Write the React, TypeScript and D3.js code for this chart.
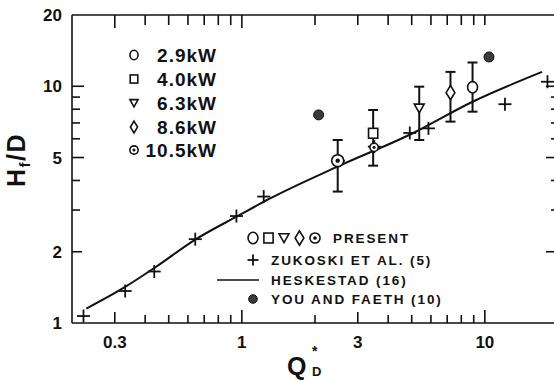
import React from "react";
import * as d3 from "d3";

// ---------- data ----------
const zukoskiQ = [0.223, 0.331, 0.436, 0.643, 0.95, 1.23, 2.5, 3.51, 4.91, 5.86, 12.1, 18.1];
const zukoskiH = [1.07, 1.365, 1.65, 2.26, 2.83, 3.42, 4.85, 5.56, 6.35, 6.64, 8.4, 10.45];

const presentLabels = ["2.9kW", "4.0kW", "6.3kW", "8.6kW", "10.5kW"];
const presentShapes = ["circle", "square", "triangle", "diamond", "dotcircle"];
const presentQ = [8.9, 3.47, 5.37, 7.22, 2.48];
const presentH = [9.9, 6.33, 8.07, 9.4, 4.85];
const presentLow = [7.81, 4.62, 5.93, 7.09, 3.59];
const presentHigh = [12.6, 7.94, 9.96, 11.5, 5.93];

const extraQ = [3.5];
const extraH = [5.52];

const youFaethQ = [2.07, 10.4];
const youFaethH = [7.57, 13.3];

const heskQ = [0.229, 0.331, 0.441, 0.643, 0.98, 1.3, 2.5, 5.0, 8.9, 17.2];
const heskH = [1.15, 1.42, 1.72, 2.25, 2.86, 3.35, 4.6, 6.3, 8.6, 11.5];

const xTickLabels = [0.3, 1, 3, 10];
const xTicks = [0.3, 0.4, 0.5, 0.6, 0.7, 0.8, 0.9, 1, 2, 3, 4, 5, 6, 7, 8, 9, 10];
const yTickLabels = [1, 2, 5, 10, 20];
const yTicks = [2, 3, 4, 5, 6, 7, 8, 9, 10];

const legendBottom = ["PRESENT", "ZUKOSKI ET AL. (5)", "HESKESTAD (16)", "YOU AND FAETH (10)"];

// ---------- layout ----------
const W = 554;
const H = 381;
const x = d3.scaleLog().domain([0.2, 20]).range([72, 558]);
const y = d3.scaleLog().domain([1, 20]).range([323, 15]);
const FONT = "'Liberation Sans', Arial, Helvetica, sans-serif";
const INK = "#111";

function Marker({ shape, cx, cy, s = 1 }: { shape: string; cx: number; cy: number; s?: number }) {
  const sw = 1.6;
  if (shape === "circle")
    return <ellipse cx={cx} cy={cy} rx={4.5 * s} ry={5.2 * s} fill="white" stroke={INK} strokeWidth={sw} />;
  if (shape === "square")
    return <rect x={cx - 4.2 * s} y={cy - 4.5 * s} width={8.4 * s} height={9 * s} fill="white" stroke={INK} strokeWidth={sw} />;
  if (shape === "triangle")
    return (
      <path
        d={`M${cx - 4.5 * s},${cy - 3.8 * s} L${cx + 4.5 * s},${cy - 3.8 * s} L${cx},${cy + 4.2 * s} Z`}
        fill="white"
        stroke={INK}
        strokeWidth={sw}
      />
    );
  if (shape === "diamond")
    return (
      <path
        d={`M${cx},${cy - 6.5 * s} L${cx + 4 * s},${cy} L${cx},${cy + 6.5 * s} L${cx - 4 * s},${cy} Z`}
        fill="white"
        stroke={INK}
        strokeWidth={sw}
      />
    );
  // dotcircle
  return (
    <g>
      <circle cx={cx} cy={cy} r={4.6 * s} fill="white" stroke={INK} strokeWidth={sw} />
      <circle cx={cx} cy={cy} r={1.7 * s} fill={INK} />
    </g>
  );
}

function Plus({ cx, cy, r = 6.5 }: { cx: number; cy: number; r?: number }) {
  return (
    <g stroke={INK} strokeWidth={1.8}>
      <line x1={cx - r} x2={cx + r} y1={cy} y2={cy} />
      <line x1={cx} x2={cx} y1={cy - r} y2={cy + r} />
    </g>
  );
}

export default function App() {
  const line = d3
    .line<number>()
    .x((_, i) => x(heskQ[i]))
    .y((d) => y(d))
    .curve(d3.curveMonotoneX);

  const x0 = x.range()[0];
  const x1 = x.range()[1];
  const yb = y.range()[0];
  const yt = y.range()[1];

  const bottomLen = (t: number) => (t === 1 || t === 10 ? 13 : t === 0.3 || t === 3 ? 11 : 8);
  const topLen = (t: number) => (t === 1 || t === 0.3 ? 13 : 10);
  const leftLen = (t: number) => (t === 10 || t === 5 ? 12 : t === 2 ? 10 : 8);
  const rightLen = (t: number) => (t === 10 || t === 5 || t === 2 ? 12 : 7);

  const legendTopY = [55, 79, 103, 127, 150];
  const legendBotY = [238, 260, 280, 299];

  return (
    <svg
      width={W}
      height={H}
      viewBox={`0 0 ${W} ${H}`}
      style={{ position: "absolute", left: 0, top: 0, background: "white" }}
    >
      <rect x={0} y={0} width={W} height={H} fill="white" />

      {/* frame */}
      <g stroke={INK} strokeWidth={1.6} fill="none">
        <line x1={x0} x2={x1} y1={yb} y2={yb} />
        <line x1={x0} x2={x1} y1={yt} y2={yt} />
        <line x1={x0} x2={x0} y1={yt} y2={yb} />
        <line x1={x1} x2={x1} y1={yt} y2={yb} />
      </g>

      {/* ticks */}
      <g stroke={INK} strokeWidth={1.6}>
        {xTicks.map((t) => (
          <line key={"b" + t} x1={x(t)} x2={x(t)} y1={yb} y2={yb - bottomLen(t)} />
        ))}
        {xTicks.map((t) => (
          <line key={"t" + t} x1={x(t)} x2={x(t)} y1={yt} y2={yt + topLen(t)} />
        ))}
        {yTicks.map((t) => (
          <line key={"l" + t} x1={x0} x2={x0 + leftLen(t)} y1={y(t)} y2={y(t)} />
        ))}
        {yTicks.map((t) => (
          <line key={"r" + t} x1={x1} x2={x1 - rightLen(t)} y1={y(t)} y2={y(t)} />
        ))}
      </g>

      {/* tick labels */}
      <g fontFamily={FONT} fontWeight="bold" fontSize={17} fill={INK}>
        {xTickLabels.map((t) => (
          <text key={"xl" + t} x={x(t)} y={348} textAnchor="middle">
            {String(t)}
          </text>
        ))}
        {yTickLabels.map((t) => (
          <text key={"yl" + t} x={62} y={y(t) + 6} textAnchor="end">
            {String(t)}
          </text>
        ))}
      </g>

      {/* axis titles */}
      <text
        transform="translate(25,160) rotate(-90)"
        textAnchor="middle"
        fontFamily={FONT}
        fontWeight="bold"
        fontSize={25}
        letterSpacing={1.5}
        fill={INK}
      >
        H<tspan fontSize={15} dy={5}>f</tspan>
        <tspan dy={-5}>/D</tspan>
      </text>
      <g fontFamily={FONT} fontWeight="bold" fill={INK}>
        <text x={287} y={375} fontSize={25}>Q</text>
        <text x={312} y={356} fontSize={14}>*</text>
        <text x={312} y={376} fontSize={13}>D</text>
      </g>

      {/* Heskestad line */}
      <path d={line(heskH) ?? ""} fill="none" stroke={INK} strokeWidth={2} />

      {/* error bars */}
      <g stroke={INK} strokeWidth={2}>
        {presentQ.map((q, i) => (
          <g key={"eb" + i}>
            <line x1={x(q)} x2={x(q)} y1={y(presentLow[i])} y2={y(presentHigh[i])} />
            <line x1={x(q) - 5} x2={x(q) + 5} y1={y(presentLow[i])} y2={y(presentLow[i])} />
            <line x1={x(q) - 5} x2={x(q) + 5} y1={y(presentHigh[i])} y2={y(presentHigh[i])} />
          </g>
        ))}
      </g>

      {/* Zukoski */}
      {zukoskiQ.map((q, i) => (
        <Plus key={"z" + i} cx={x(q)} cy={y(zukoskiH[i])} />
      ))}

      {/* present */}
      {presentQ.map((q, i) => (
        <Marker key={"p" + i} shape={presentShapes[i]} cx={x(q)} cy={y(presentH[i])} s={i === 4 ? 1.3 : 1.1} />
      ))}
      {extraQ.map((q, i) => (
        <Marker key={"e" + i} shape="dotcircle" cx={x(q)} cy={y(extraH[i])} s={0.9} />
      ))}

      {/* You and Faeth */}
      {youFaethQ.map((q, i) => (
        <circle key={"yf" + i} cx={x(q)} cy={y(youFaethH[i])} r={5} fill="#3a3a3a" stroke={INK} strokeWidth={1} />
      ))}

      {/* top-left legend */}
      {presentLabels.map((lab, i) => (
        <g key={"lt" + i}>
          <Marker shape={presentShapes[i]} cx={134} cy={legendTopY[i]} s={0.9} />
          <text
            x={217}
            y={legendTopY[i] + 7}
            textAnchor="end"
            fontFamily={FONT}
            fontWeight="bold"
            fontSize={19}
            letterSpacing={1}
            fill={INK}
          >
            {lab}
          </text>
        </g>
      ))}

      {/* bottom legend */}
      <g>
        {presentShapes.map((sh, i) => (
          <Marker key={"lb" + i} shape={sh} cx={253 + i * 15.5} cy={legendBotY[0]} s={1.1} />
        ))}
        <Plus cx={253} cy={legendBotY[1]} r={5.5} />
        <line x1={217} x2={259} y1={legendBotY[2]} y2={legendBotY[2]} stroke={INK} strokeWidth={1.6} />
        <circle cx={253} cy={legendBotY[3]} r={4.3} fill="#3a3a3a" stroke={INK} strokeWidth={1} />
        {legendBottom.map((lab, i) => (
          <text
            key={"lbt" + i}
            x={i === 0 ? 333 : 271}
            y={legendBotY[i] + 5}
            fontFamily={FONT}
            fontWeight="bold"
            fontSize={13.5}
            letterSpacing={1.9}
            fill={INK}
          >
            {lab}
          </text>
        ))}
      </g>
    </svg>
  );
}
